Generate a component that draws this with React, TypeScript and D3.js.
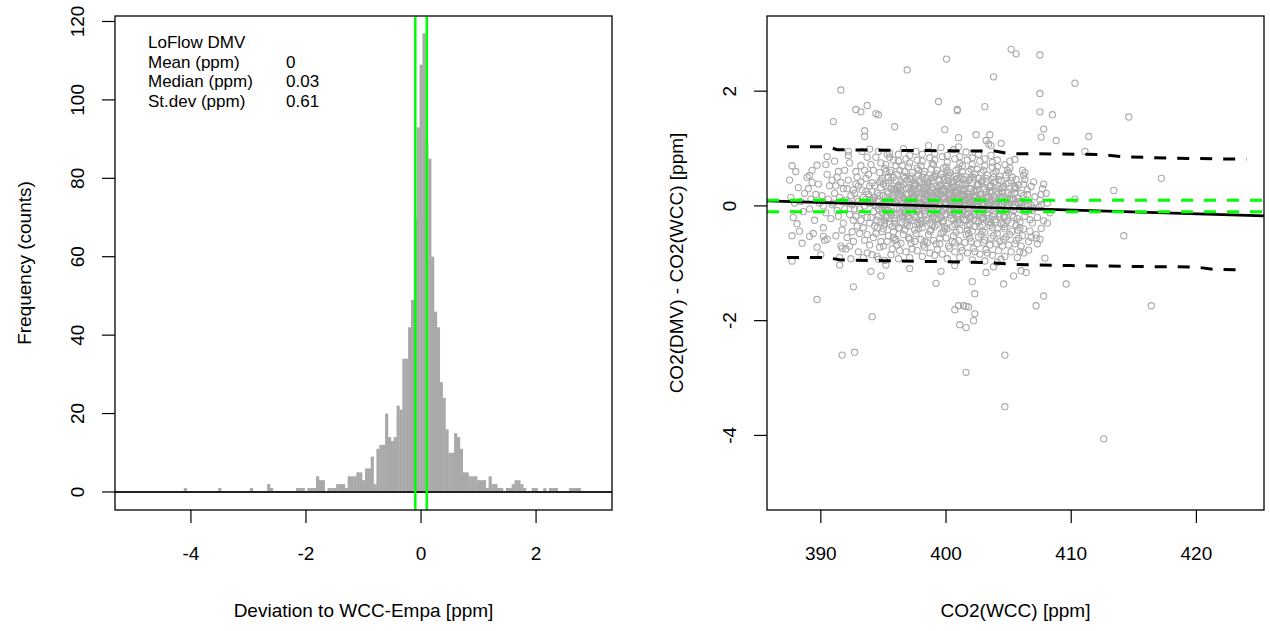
import React from "react";
import * as d3 from "d3";

// ---------------- Histogram data (bin centres, counts) ----------------
const histMid = [
  -4.1, -3.5, -2.95, -2.65, -2.6, -2.15, -2.1, -2.05, -1.95, -1.9, -1.85, -1.8, -1.75, -1.7,
  -1.6, -1.55, -1.5, -1.45, -1.4, -1.35, -1.3, -1.25, -1.2, -1.15, -1.1, -1.05, -1.0, -0.95,
  -0.9, -0.85, -0.8, -0.75, -0.7, -0.65, -0.6, -0.55, -0.5, -0.45, -0.4, -0.35, -0.3, -0.25,
  -0.2, -0.15, -0.1, -0.05, 0, 0.05, 0.1, 0.15, 0.2, 0.25, 0.3, 0.35, 0.4, 0.45, 0.5, 0.55,
  0.6, 0.65, 0.7, 0.75, 0.8, 0.85, 0.9, 0.95, 1.0, 1.05, 1.1, 1.15, 1.2, 1.25, 1.3, 1.35,
  1.4, 1.5, 1.55, 1.6, 1.65, 1.7, 1.75, 1.8, 1.95, 2.0, 2.15, 2.25, 2.3, 2.35, 2.6, 2.65,
  2.7, 2.75,
];
const histCount = [
  1, 1, 1, 2, 1, 1, 1, 1, 1, 1, 1, 4, 3, 3,
  1, 1, 1, 2, 2, 2, 1, 4, 4, 4, 5, 5, 3, 6,
  6, 9, 2, 11, 12, 12, 20, 14, 13, 14, 22, 21, 34, 34,
  42, 49, 70, 93, 109, 117, 89, 85, 60, 46, 42, 28, 24, 16, 10, 10,
  15, 14, 11, 5, 5, 4, 4, 4, 3, 3, 3, 1, 4, 2, 2, 1,
  1, 1, 1, 2, 3, 3, 2, 1, 1, 1, 1, 1, 1, 1, 1, 1,
  1, 1,
];
const histBinWidth = 0.05;
const limitLines = [-0.1, 0.1];
const histXTicks = [-4, -2, 0, 2];
const histYTicks = [0, 20, 40, 60, 80, 100, 120];
const histXDomain = [-5.32, 3.32];
const histYDomain = [-4.6, 121.4];
const statTitle = "LoFlow DMV";
const statLabels = ["Mean (ppm)", "Median (ppm)", "St.dev (ppm)"];
const statValues = ["0", "0.03", "0.61"];

// ---------------- Scatter data: flat [x, y, x, y, ...] ----------------
const scatterXY = [
  // outliers / sparse points
  400.04, 2.56, 396.9, 2.37, 391.6, 2.02, 399.4, 1.82, 392.8, 1.68, 393.2, 1.64, 393.7, 1.75,
  394.4, 1.61, 394.6, 1.59, 391.0, 1.47, 395.9, 1.38, 399.9, 1.33, 393.5, 1.31, 393.5, 1.21,
  387.7, 0.7, 388.0, 0.6, 389.7, 0.71, 390.5, 0.86, 391.4, 0.6, 389.1, 0.53, 389.3, 0.41,
  393.9, 0.99, 392.2, 0.95, 395.5, 0.92,
  405.2, 2.73, 405.6, 2.65, 407.5, 2.63, 403.8, 2.25, 410.3, 2.14, 400.9, 1.66, 400.9, 1.68,
  403.1, 1.73, 407.5, 1.96, 407.5, 1.64, 408.5, 1.59, 414.6, 1.55, 402.4, 1.24, 403.5, 1.24,
  403.2, 1.14, 403.4, 1.08, 403.6, 1.05, 401.0, 1.19, 401.0, 1.03, 404.4, 1.09, 407.8, 1.34,
  407.6, 1.2, 408.8, 1.14, 411.4, 1.21, 411.1, 0.95, 405.5, 0.81, 417.2, 0.48, 413.4, 0.27,
  410.3, 0.12, 407.8, 0.38, 406.2, 0.53,
  388.3, -0.44, 389.1, -0.53, 390.2, -0.53, 390.5, -0.58, 391.7, -0.74, 392.3, -0.7, 387.7, -0.96,
  391.5, -1.03, 393.7, -0.82, 394.6, -0.93, 395.2, -1.03, 394.0, -1.14, 394.8, -1.22, 397.1, -1.09,
  392.6, -1.41, 399.2, -1.35, 399.6, -1.14, 389.7, -1.63, 394.1, -1.93, 391.7, -2.6, 392.7, -2.55,
  414.2, -0.52, 407.9, -0.91, 409.6, -1.36, 407.8, -1.57, 402.1, -1.32, 402.3, -1.53, 404.6, -1.36,
  405.4, -1.22, 406.0, -1.13, 406.4, -1.16, 403.2, -1.16, 403.8, -1.06, 400.7, -1.04, 404.4, -0.93,
  405.9, -0.8, 406.6, -0.77, 407.2, -0.56, 407.5, -0.58, 407.6, -0.39, 408.1, -0.3, 406.2, -0.4,
  407.2, -1.74, 416.4, -1.74, 400.7, -1.81, 401.0, -1.74, 401.4, -1.74, 401.6, -1.75, 401.8, -1.76,
  402.3, -1.88, 402.2, -2.0, 401.1, -2.07, 401.6, -2.12, 404.7, -2.6, 401.6, -2.9, 404.7, -3.5,
  412.6, -4.06,
  // 387
  387.6, 0.15, 387.8, -0.2, 387.5, 0.45, 387.9, 0.05, 387.7, -0.52,
  // 388
  388.2, 0.32, 388.6, -0.1, 388.4, 0.08, 388.9, 0.5, 388.1, -0.31, 388.7, 0.22, 388.5, -0.65,
  // 389
  389.2, 0.12, 389.5, -0.25, 389.8, 0.38, 389.1, -0.05, 389.6, 0.2, 389.4, -0.48, 389.9, 0.05,
  389.3, 0.62, 389.7, -0.72, 389.0, 0.3,
  // 390
  390.1, 0.18, 390.4, -0.12, 390.7, 0.35, 390.2, -0.38, 390.9, 0.02, 390.5, 0.55, 390.3, -0.6,
  390.8, -0.22, 390.6, 0.12, 390.0, -0.85, 390.4, 0.72, 390.9, 0.45, 390.2, 0.0,
  // 391
  391.1, 0.22, 391.3, -0.08, 391.6, 0.41, 391.8, -0.3, 391.0, 0.05, 391.5, 0.15, 391.9, 0.62,
  391.2, -0.52, 391.7, 0.08, 391.4, -0.18, 391.8, 0.3, 391.1, 0.78, 391.6, -0.7, 391.3, 0.5,
  391.9, -0.05, 391.5, -0.9, 391.2, 0.35, 391.7, -0.42,
  // 392
  392.0, 0.1, 392.3, -0.15, 392.6, 0.28, 392.9, -0.35, 392.2, 0.45, 392.5, 0.02, 392.8, 0.6,
  392.1, -0.55, 392.4, 0.18, 392.7, -0.05, 392.9, 0.12, 392.3, 0.75, 392.6, -0.25, 392.0, -0.75,
  392.8, 0.38, 392.5, -0.45, 392.2, 0.88, 392.7, 0.22, 392.4, -0.92, 392.9, 0.5, 392.1, 0.3,
  392.6, -0.62, 392.3, 0.05, 392.8, -0.18,
  // 393
  393.0, 0.08, 393.3, -0.12, 393.6, 0.25, 393.9, -0.3, 393.2, 0.42, 393.5, 0.0, 393.8, 0.55,
  393.1, -0.48, 393.4, 0.15, 393.7, -0.2, 393.9, 0.35, 393.2, 0.7, 393.5, -0.6, 393.8, 0.05,
  393.0, -0.8, 393.6, 0.48, 393.3, 0.28, 393.7, 0.85, 393.1, -0.05, 393.4, -0.38, 393.9, -0.68,
  393.6, 0.12, 393.2, -0.25, 393.8, 0.2, 393.5, 0.62, 393.0, 0.35, 393.7, -0.5, 393.3, 0.95,
  393.9, 0.1, 393.4, -0.9,
  // 394
  394.0, 0.05, 394.2, -0.1, 394.5, 0.22, 394.8, -0.28, 394.1, 0.4, 394.4, 0.0, 394.7, 0.58,
  394.9, -0.45, 394.3, 0.15, 394.6, -0.18, 394.8, 0.32, 394.0, 0.72, 394.2, -0.55, 394.5, 0.08,
  394.7, -0.72, 394.9, 0.48, 394.1, 0.25, 394.4, 0.85, 394.6, -0.05, 394.3, -0.35, 394.8, -0.62,
  394.0, 0.12, 394.5, -0.25, 394.7, 0.18, 394.2, 0.62, 394.9, 0.02, 394.4, -0.48, 394.6, 0.95,
  394.1, -0.85, 394.3, 0.35, 394.8, 0.75, 394.5, -0.88, 394.0, -0.2, 394.7, 0.42, 394.2, 0.1,
  394.9, -0.12,
  // 395
  395.1, 0.02, 395.4, -0.08, 395.7, 0.18, 395.9, -0.22, 395.2, 0.35, 395.5, 0.1, 395.8, 0.5,
  395.0, -0.4, 395.3, 0.25, 395.6, -0.15, 395.9, 0.3, 395.1, 0.65, 395.4, -0.52, 395.7, 0.05,
  395.0, -0.7, 395.6, 0.45, 395.3, 0.15, 395.8, 0.8, 395.2, -0.02, 395.5, -0.32, 395.9, -0.6,
  395.4, 0.22, 395.1, -0.25, 395.7, 0.12, 395.5, 0.58, 395.0, 0.38, 395.8, -0.45, 395.3, 0.9,
  395.9, 0.08, 395.6, -0.85, 395.2, 0.72, 395.7, -0.1, 395.4, 0.4, 395.0, 0.0, 395.8, 0.28,
  395.3, -0.62, 395.6, 0.62, 395.1, -0.95, 395.9, -0.3, 395.5, 0.85, 395.2, -0.18, 395.7, -0.75,
  // 396
  396.0, 0.05, 396.3, -0.05, 396.6, 0.15, 396.9, -0.18, 396.1, 0.32, 396.4, 0.08, 396.7, 0.48,
  396.2, -0.38, 396.5, 0.22, 396.8, -0.12, 396.0, 0.28, 396.3, 0.62, 396.6, -0.5, 396.9, 0.02,
  396.1, -0.68, 396.4, 0.42, 396.7, 0.12, 396.2, 0.78, 396.5, -0.02, 396.8, -0.3, 396.0, -0.58,
  396.3, 0.2, 396.6, -0.22, 396.9, 0.1, 396.1, 0.55, 396.4, 0.35, 396.7, -0.42, 396.2, 0.9,
  396.5, 0.05, 396.8, -0.8, 396.0, 0.7, 396.3, -0.12, 396.6, 0.38, 396.9, 0.0, 396.1, 0.25,
  396.4, -0.65, 396.7, 0.6, 396.2, -0.92, 396.5, -0.28, 396.8, 0.82, 396.0, -0.15, 396.3, -0.78,
  396.6, 1.0, 396.9, 0.45, 396.4, 0.18, 396.7, -0.08, 396.2, 0.1, 396.8, 0.3,
  // 397
  397.0, 0.1, 397.3, -0.02, 397.6, 0.2, 397.9, -0.15, 397.2, 0.3, 397.5, 0.05, 397.8, 0.45,
  397.1, -0.35, 397.4, 0.18, 397.7, -0.1, 397.0, 0.32, 397.3, 0.58, 397.6, -0.48, 397.9, 0.0,
  397.2, -0.65, 397.5, 0.4, 397.8, 0.15, 397.1, 0.75, 397.4, 0.02, 397.7, -0.28, 397.0, -0.55,
  397.3, 0.22, 397.6, -0.2, 397.9, 0.12, 397.2, 0.52, 397.5, 0.35, 397.8, -0.4, 397.1, 0.88,
  397.4, 0.08, 397.7, -0.78, 397.0, 0.68, 397.3, -0.1, 397.6, 0.38, 397.9, 0.05, 397.2, 0.25,
  397.5, -0.62, 397.8, 0.62, 397.1, -0.9, 397.4, -0.25, 397.7, 0.8, 397.0, -0.18, 397.3, -0.75,
  397.6, 0.95, 397.9, 0.42, 397.5, 0.15, 397.8, -0.05, 397.2, 0.12, 397.4, 0.28, 397.6, 0.0,
  397.9, -0.32, 397.1, 0.48, 397.7, 0.25,
  // 398
  398.0, 0.05, 398.3, -0.08, 398.6, 0.18, 398.9, -0.2, 398.2, 0.32, 398.5, 0.1, 398.8, 0.48,
  398.1, -0.38, 398.4, 0.22, 398.7, -0.12, 398.0, 0.3, 398.3, 0.6, 398.6, -0.5, 398.9, 0.02,
  398.2, -0.68, 398.5, 0.42, 398.8, 0.12, 398.1, 0.78, 398.4, 0.0, 398.7, -0.3, 398.0, -0.58,
  398.3, 0.2, 398.6, -0.22, 398.9, 0.15, 398.2, 0.55, 398.5, 0.35, 398.8, -0.42, 398.1, 0.9,
  398.4, 0.06, 398.7, -0.82, 398.0, 0.7, 398.3, -0.14, 398.6, 0.4, 398.9, 0.08, 398.2, 0.26,
  398.5, -0.64, 398.8, 0.64, 398.1, -0.88, 398.4, -0.26, 398.7, 0.84, 398.0, -0.16, 398.3, -0.72,
  398.6, 1.05, 398.9, 0.44, 398.5, 0.16, 398.8, -0.04, 398.2, 0.1, 398.4, 0.3, 398.6, 0.02,
  398.9, -0.34, 398.1, 0.5, 398.7, 0.24, 398.3, 0.12, 398.8, 0.0,
  // 399
  399.0, 0.08, 399.3, -0.04, 399.6, 0.2, 399.9, -0.16, 399.2, 0.34, 399.5, 0.06, 399.8, 0.5,
  399.1, -0.36, 399.4, 0.2, 399.7, -0.1, 399.0, 0.28, 399.3, 0.62, 399.6, -0.48, 399.9, 0.04,
  399.2, -0.66, 399.5, 0.44, 399.8, 0.14, 399.1, 0.8, 399.4, 0.02, 399.7, -0.28, 399.0, -0.6,
  399.3, 0.24, 399.6, -0.2, 399.9, 0.12, 399.2, 0.56, 399.5, 0.36, 399.8, -0.44, 399.1, 0.92,
  399.4, 0.1, 399.7, -0.84, 399.0, 0.72, 399.3, -0.12, 399.6, 0.38, 399.9, 0.06, 399.2, 0.22,
  399.5, -0.66, 399.8, 0.66, 399.1, -0.86, 399.4, -0.24, 399.7, 0.86, 399.0, -0.18, 399.3, -0.76,
  399.6, 1.02, 399.9, 0.46, 399.5, 0.18, 399.8, -0.06, 399.2, 0.12, 399.4, 0.32, 399.6, 0.04,
  399.9, -0.36, 399.1, 0.52, 399.7, 0.26, 399.3, 0.14, 399.8, 0.3,
  // 400
  400.0, 0.06, 400.3, -0.06, 400.6, 0.16, 400.9, -0.18, 400.2, 0.3, 400.5, 0.08, 400.8, 0.46,
  400.1, -0.4, 400.4, 0.24, 400.7, -0.12, 400.0, 0.34, 400.3, 0.58, 400.6, -0.52, 400.9, 0.0,
  400.2, -0.7, 400.5, 0.4, 400.8, 0.1, 400.1, 0.76, 400.4, 0.04, 400.7, -0.32, 400.0, -0.56,
  400.3, 0.18, 400.6, -0.24, 400.9, 0.14, 400.2, 0.54, 400.5, 0.32, 400.8, -0.46, 400.1, 0.88,
  400.4, 0.08, 400.7, -0.8, 400.0, 0.68, 400.3, -0.1, 400.6, 0.42, 400.9, 0.1, 400.2, 0.2,
  400.5, -0.62, 400.8, 0.62, 400.1, -0.92, 400.4, -0.22, 400.7, 0.82, 400.0, -0.14, 400.3, -0.74,
  400.6, 0.98, 400.9, 0.48, 400.5, 0.14, 400.8, -0.02, 400.2, 0.1, 400.4, 0.28, 400.6, 0.0,
  400.9, -0.3, 400.1, 0.5, 400.7, 0.22, 400.3, 0.1, 400.8, 0.26,
  // 401
  401.0, 0.04, 401.3, -0.08, 401.6, 0.14, 401.9, -0.2, 401.2, 0.28, 401.5, 0.1, 401.8, 0.44,
  401.1, -0.42, 401.4, 0.2, 401.7, -0.14, 401.0, 0.32, 401.3, 0.6, 401.6, -0.5, 401.9, 0.02,
  401.2, -0.72, 401.5, 0.38, 401.8, 0.12, 401.1, 0.74, 401.4, 0.0, 401.7, -0.34, 401.0, -0.6,
  401.3, 0.2, 401.6, -0.26, 401.9, 0.16, 401.2, 0.52, 401.5, 0.3, 401.8, -0.48, 401.1, 0.86,
  401.4, 0.06, 401.7, -0.82, 401.0, 0.66, 401.3, -0.12, 401.6, 0.4, 401.9, 0.08, 401.2, 0.18,
  401.5, -0.64, 401.8, 0.6, 401.1, -0.9, 401.4, -0.24, 401.7, 0.8, 401.0, -0.16, 401.3, -0.78,
  401.6, 0.94, 401.9, 0.46, 401.5, 0.12, 401.8, -0.04, 401.2, 0.08, 401.4, 0.26, 401.6, 0.02,
  401.9, -0.32, 401.1, 0.48, 401.7, 0.22,
  // 402
  402.0, 0.06, 402.3, -0.1, 402.6, 0.12, 402.9, -0.22, 402.2, 0.26, 402.5, 0.08, 402.8, 0.42,
  402.1, -0.44, 402.4, 0.18, 402.7, -0.16, 402.0, 0.3, 402.3, 0.56, 402.6, -0.54, 402.9, 0.0,
  402.2, -0.74, 402.5, 0.36, 402.8, 0.1, 402.1, 0.72, 402.4, -0.02, 402.7, -0.36, 402.0, -0.62,
  402.3, 0.18, 402.6, -0.28, 402.9, 0.14, 402.2, 0.5, 402.5, 0.28, 402.8, -0.5, 402.1, 0.84,
  402.4, 0.04, 402.7, -0.84, 402.0, 0.64, 402.3, -0.14, 402.6, 0.38, 402.9, 0.06, 402.2, 0.16,
  402.5, -0.66, 402.8, 0.58, 402.1, -0.94, 402.4, -0.26, 402.7, 0.78, 402.0, -0.18, 402.3, -0.8,
  402.6, 0.9, 402.9, 0.44, 402.5, 0.1, 402.8, -0.06, 402.2, 0.06, 402.4, 0.24, 402.6, 0.0,
  402.9, -0.34,
  // 403
  403.0, 0.04, 403.3, -0.12, 403.6, 0.1, 403.9, -0.24, 403.2, 0.24, 403.5, 0.06, 403.8, 0.4,
  403.1, -0.46, 403.4, 0.16, 403.7, -0.18, 403.0, 0.28, 403.3, 0.54, 403.6, -0.56, 403.9, -0.02,
  403.2, -0.76, 403.5, 0.34, 403.8, 0.08, 403.1, 0.7, 403.4, -0.04, 403.7, -0.38, 403.0, -0.64,
  403.3, 0.16, 403.6, -0.3, 403.9, 0.12, 403.2, 0.48, 403.5, 0.26, 403.8, -0.52, 403.1, 0.82,
  403.4, 0.02, 403.7, -0.86, 403.0, 0.62, 403.3, -0.16, 403.6, 0.36, 403.9, 0.04, 403.2, 0.14,
  403.5, -0.68, 403.8, 0.56, 403.1, -0.96, 403.4, -0.28, 403.7, 0.76, 403.0, -0.2, 403.3, -0.82,
  403.6, 0.88, 403.9, 0.42, 403.5, 0.1, 403.8, -0.08,
  // 404
  404.0, 0.02, 404.3, -0.14, 404.6, 0.08, 404.9, -0.26, 404.2, 0.22, 404.5, 0.04, 404.8, 0.38,
  404.1, -0.48, 404.4, 0.14, 404.7, -0.2, 404.0, 0.26, 404.3, 0.52, 404.6, -0.58, 404.9, -0.04,
  404.2, -0.78, 404.5, 0.32, 404.8, 0.06, 404.1, 0.68, 404.4, -0.06, 404.7, -0.4, 404.0, -0.66,
  404.3, 0.14, 404.6, -0.32, 404.9, 0.1, 404.2, 0.46, 404.5, 0.24, 404.8, -0.54, 404.1, 0.8,
  404.4, 0.0, 404.7, -0.88, 404.0, 0.6, 404.3, -0.18, 404.6, 0.34, 404.9, 0.02, 404.2, 0.12,
  404.5, -0.7, 404.8, 0.54, 404.1, -0.98, 404.4, -0.3, 404.7, 0.72,
  // 405
  405.0, 0.0, 405.3, -0.16, 405.6, 0.06, 405.9, -0.28, 405.2, 0.2, 405.5, 0.02, 405.8, 0.36,
  405.1, -0.5, 405.4, 0.12, 405.7, -0.22, 405.0, 0.24, 405.3, 0.5, 405.6, -0.6, 405.9, -0.06,
  405.2, -0.8, 405.5, 0.3, 405.8, 0.04, 405.1, 0.66, 405.4, -0.08, 405.7, -0.42, 405.0, -0.68,
  405.3, 0.12, 405.6, -0.34, 405.9, 0.08, 405.2, 0.44, 405.5, 0.22, 405.8, -0.56, 405.1, 0.78,
  405.4, -0.02, 405.7, -0.9, 405.0, 0.58, 405.6, 0.32,
  // 406
  406.0, -0.02, 406.3, -0.18, 406.6, 0.04, 406.9, -0.3, 406.2, 0.18, 406.5, 0.0, 406.8, 0.34,
  406.1, -0.52, 406.4, 0.1, 406.7, -0.24, 406.0, 0.22, 406.3, 0.46, 406.6, -0.62, 406.9, -0.08,
  406.2, -0.82, 406.5, 0.28, 406.8, 0.02, 406.1, 0.62, 406.4, -0.1, 406.7, -0.44, 406.0, -0.7,
  406.5, 0.2,
  // 407 - 408
  407.0, -0.04, 407.3, -0.2, 407.6, 0.02, 407.1, 0.16, 407.4, -0.02, 407.7, 0.3, 407.2, -0.5,
  407.5, 0.1, 407.8, -0.26, 407.0, 0.42, 407.3, -0.66, 407.6, 0.2,
  408.1, 0.05, 408.3, -0.12, 408.0, 0.22,
  // dense core, near zero
  394.3, 0.02, 394.6, 0.11, 394.9, -0.06, 395.2, 0.08, 395.5, -0.12, 395.8, 0.14, 396.1, -0.04,
  396.4, 0.26, 396.7, -0.16, 397.0, 0.04, 397.3, 0.12, 397.6, -0.08, 397.9, 0.22, 398.2, -0.02,
  398.5, 0.2, 398.8, -0.14, 399.1, 0.06, 399.4, -0.08, 399.7, 0.16, 400.0, -0.04, 400.3, 0.22,
  400.6, -0.1, 400.9, 0.28, 401.2, -0.02, 401.5, 0.18, 401.8, -0.12, 402.1, 0.1, 402.4, -0.06,
  402.7, 0.2, 403.0, -0.1, 403.3, 0.06, 403.6, 0.22, 403.9, -0.14, 404.2, 0.04, 404.5, 0.16,
  404.8, -0.1, 405.1, 0.1, 405.4, -0.2, 405.7, 0.14, 406.0, 0.06,
  394.5, -0.38, 394.8, 0.45, 395.1, -0.32, 395.4, 0.5, 395.7, -0.36, 396.0, 0.44, 396.3, -0.4,
  396.6, 0.52, 396.9, -0.34, 397.2, 0.46, 397.5, -0.42, 397.8, 0.54, 398.1, -0.3, 398.4, 0.48,
  398.7, -0.44, 399.0, 0.5, 399.3, -0.32, 399.6, 0.56, 399.9, -0.4, 400.2, 0.44, 400.5, -0.36,
  400.8, 0.52, 401.1, -0.3, 401.4, 0.46, 401.7, -0.42, 402.0, 0.5, 402.3, -0.36, 402.6, 0.48,
  402.9, -0.44, 403.2, 0.42, 403.5, -0.34, 403.8, 0.5, 404.1, -0.4, 404.4, 0.44, 404.7, -0.36,
  405.0, 0.4, 405.3, -0.44, 405.6, 0.46, 405.9, -0.38, 406.2, 0.38,
  395.0, 0.18, 395.3, -0.2, 395.6, 0.3, 395.9, -0.26, 396.2, 0.36, 396.5, -0.18, 396.8, 0.2,
  397.1, -0.22, 397.4, 0.34, 397.7, 0.08, 398.0, -0.26, 398.3, 0.36, 398.6, -0.06, 398.9, 0.32,
  399.2, -0.22, 399.5, 0.26, 399.8, -0.26, 400.1, 0.36, 400.4, -0.16, 400.7, 0.34, 401.0, -0.24,
  401.3, 0.36, 401.6, -0.16, 401.9, 0.3, 402.2, -0.24, 402.5, 0.38, 402.8, -0.2, 403.1, 0.3,
  403.4, -0.22, 403.7, 0.26, 404.0, -0.28, 404.3, 0.3, 404.6, -0.18, 404.9, 0.22, 405.2, -0.3,
  405.5, 0.34,
  395.2, 0.6, 395.8, -0.55, 396.5, 0.7, 397.1, -0.58, 397.7, 0.66, 398.3, -0.62, 398.9, 0.74,
  399.5, -0.56, 400.1, 0.62, 400.7, -0.64, 401.3, 0.7, 401.9, -0.56, 402.5, 0.64, 403.1, -0.6,
  403.7, 0.68, 404.3, -0.62, 404.9, 0.62, 405.5, -0.66, 406.3, 0.58, 406.8, -0.55,
];

// fitted regression line (solid black)
const fitIntercept = 2.625;
const fitSlope = -0.00658;
// running quantile lines (dashed black)
const upperQX = [387.3, 390.6, 391.3, 395.0, 400.3, 403.9, 405.1, 409.0, 412.5, 413.9, 418.0, 424.0];
const upperQY = [1.03, 1.03, 0.98, 0.97, 0.96, 0.955, 0.91, 0.905, 0.895, 0.86, 0.83, 0.815];
const lowerQX = [387.3, 390.5, 391.5, 395.0, 399.0, 403.0, 405.5, 410.0, 415.0, 420.0, 421.3, 424.0];
const lowerQY = [-0.9, -0.9, -0.94, -0.955, -0.97, -0.985, -1.02, -1.04, -1.055, -1.065, -1.105, -1.115];

const scXTicks = [390, 400, 410, 420];
const scYTicks = [-4, -2, 0, 2];
const scXDomain = [385.7, 425.4];
const scYDomain = [-5.3, 3.31];

// ---------------- layout ----------------
const W = 1270;
const H = 631;
const TOP = 16;
const BOTTOM = 510;
const L = { x0: 115, x1: 612 };
const R = { x0: 767, x1: 1264 };
const FONT = "'Liberation Sans', Arial, Helvetica, sans-serif";
const AXIS_FS = 19;
const TICK = 13;
const GREY = "#a9a9a9";
const GREEN = "#00ff00";

export default function App() {
  const hx = d3.scaleLinear().domain(histXDomain).range([L.x0, L.x1]);
  const hy = d3.scaleLinear().domain(histYDomain).range([BOTTOM, TOP]);
  const sx = d3.scaleLinear().domain(scXDomain).range([R.x0, R.x1]);
  const sy = d3.scaleLinear().domain(scYDomain).range([BOTTOM, TOP]);

  const pts: [number, number][] = [];
  for (let i = 0; i + 1 < scatterXY.length; i += 2) pts.push([scatterXY[i], scatterXY[i + 1]]);

  const lineGen = d3
    .line<[number, number]>()
    .x((d) => sx(d[0]))
    .y((d) => sy(d[1]));
  const upperPath = lineGen(upperQX.map((x, i) => [x, upperQY[i]] as [number, number]));
  const lowerPath = lineGen(lowerQX.map((x, i) => [x, lowerQY[i]] as [number, number]));

  const fitX = scXDomain;
  const fitY = fitX.map((x) => fitIntercept + fitSlope * x);

  const xTickLabelY = 560;
  const xTitleY = 617;

  return (
    <svg
      width={W}
      height={H}
      viewBox={`0 0 ${W} ${H}`}
      style={{ position: "absolute", left: 0, top: 0, background: "#fff" }}
      fontFamily={FONT}
    >
      <defs>
        <clipPath id="clipL">
          <rect x={L.x0} y={TOP} width={L.x1 - L.x0} height={BOTTOM - TOP} />
        </clipPath>
        <clipPath id="clipR">
          <rect x={R.x0} y={TOP} width={R.x1 - R.x0} height={BOTTOM - TOP} />
        </clipPath>
      </defs>
      <rect x={0} y={0} width={W} height={H} fill="#fff" />

      {/* ---------- Histogram panel ---------- */}
      <g clipPath="url(#clipL)">
        {histMid.map((m, i) => {
          const x0 = hx(m - histBinWidth / 2);
          const x1 = hx(m + histBinWidth / 2);
          return (
            <rect
              key={i}
              x={x0}
              y={hy(histCount[i])}
              width={x1 - x0 + 0.3}
              height={hy(0) - hy(histCount[i])}
              fill={GREY}
            />
          );
        })}
        <line x1={L.x0} x2={L.x1} y1={hy(0)} y2={hy(0)} stroke="#222" strokeWidth={2} />
        {limitLines.map((v, i) => (
          <line key={i} x1={hx(v)} x2={hx(v)} y1={TOP} y2={BOTTOM} stroke={GREEN} strokeWidth={2.5} />
        ))}
      </g>
      <rect x={L.x0} y={TOP} width={L.x1 - L.x0} height={BOTTOM - TOP} fill="none" stroke="#000" strokeWidth={1.3} />
      {histXTicks.map((t) => (
        <g key={t}>
          <line x1={hx(t)} x2={hx(t)} y1={BOTTOM} y2={BOTTOM + TICK} stroke="#000" strokeWidth={1.2} />
          <text x={hx(t)} y={xTickLabelY} fontSize={AXIS_FS} textAnchor="middle">
            {t}
          </text>
        </g>
      ))}
      {histYTicks.map((t) => (
        <g key={t}>
          <line x1={L.x0 - TICK} x2={L.x0} y1={hy(t)} y2={hy(t)} stroke="#000" strokeWidth={1.2} />
          <text
            transform={`translate(${84},${hy(t)}) rotate(-90)`}
            fontSize={AXIS_FS}
            textAnchor="middle"
          >
            {t}
          </text>
        </g>
      ))}
      <text x={(L.x0 + L.x1) / 2} y={xTitleY} fontSize={AXIS_FS} textAnchor="middle">
        Deviation to WCC-Empa [ppm]
      </text>
      <text
        transform={`translate(${31},${(TOP + BOTTOM) / 2}) rotate(-90)`}
        fontSize={AXIS_FS}
        textAnchor="middle"
      >
        Frequency (counts)
      </text>
      <g fontSize={17}>
        <text x={148} y={47.5}>
          {statTitle}
        </text>
        {statLabels.map((s, i) => (
          <g key={s}>
            <text x={148} y={67.5 + i * 19.8}>
              {s}
            </text>
            <text x={286} y={67.5 + i * 19.8}>
              {statValues[i]}
            </text>
          </g>
        ))}
      </g>

      {/* ---------- Scatter panel ---------- */}
      <g clipPath="url(#clipR)">
        {pts.map((p, i) => (
          <circle key={i} cx={sx(p[0])} cy={sy(p[1])} r={3.1} fill="none" stroke={GREY} strokeWidth={1.1} />
        ))}
        <line
          x1={sx(fitX[0])}
          x2={sx(fitX[1])}
          y1={sy(fitY[0])}
          y2={sy(fitY[1])}
          stroke="#000"
          strokeWidth={2.6}
        />
        <path d={upperPath || ""} fill="none" stroke="#000" strokeWidth={3} strokeDasharray="12,11" />
        <path d={lowerPath || ""} fill="none" stroke="#000" strokeWidth={3} strokeDasharray="12,11" />
        {limitLines.map((v, i) => (
          <line
            key={i}
            x1={R.x0}
            x2={R.x1}
            y1={sy(v)}
            y2={sy(v)}
            stroke={GREEN}
            strokeWidth={3}
            strokeDasharray="12,11"
          />
        ))}
      </g>
      <rect x={R.x0} y={TOP} width={R.x1 - R.x0} height={BOTTOM - TOP} fill="none" stroke="#000" strokeWidth={1.3} />
      {scXTicks.map((t) => (
        <g key={t}>
          <line x1={sx(t)} x2={sx(t)} y1={BOTTOM} y2={BOTTOM + TICK} stroke="#000" strokeWidth={1.2} />
          <text x={sx(t)} y={xTickLabelY} fontSize={AXIS_FS} textAnchor="middle">
            {t}
          </text>
        </g>
      ))}
      {scYTicks.map((t) => (
        <g key={t}>
          <line x1={R.x0 - TICK} x2={R.x0} y1={sy(t)} y2={sy(t)} stroke="#000" strokeWidth={1.2} />
          <text
            transform={`translate(${R.x0 - 31},${sy(t)}) rotate(-90)`}
            fontSize={AXIS_FS}
            textAnchor="middle"
          >
            {t}
          </text>
        </g>
      ))}
      <text x={(R.x0 + R.x1) / 2} y={xTitleY} fontSize={AXIS_FS} textAnchor="middle">
        CO2(WCC) [ppm]
      </text>
      <text
        transform={`translate(${R.x0 - 84},${(TOP + BOTTOM) / 2}) rotate(-90)`}
        fontSize={AXIS_FS}
        textAnchor="middle"
      >
        CO2(DMV) - CO2(WCC) [ppm]
      </text>
    </svg>
  );
}
